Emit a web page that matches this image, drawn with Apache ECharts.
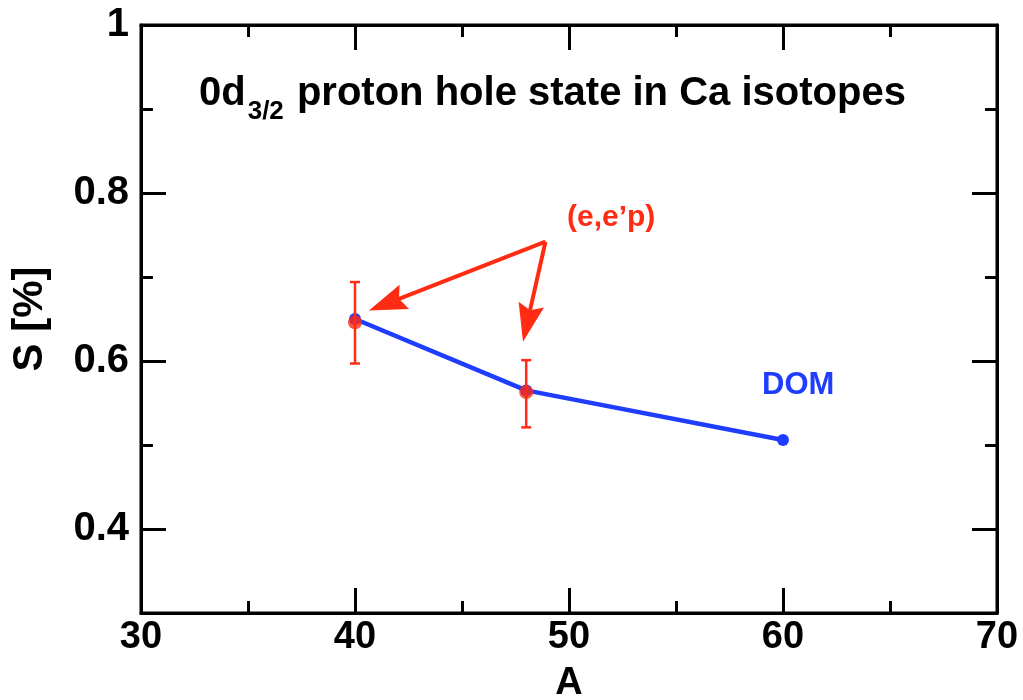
<!DOCTYPE html>
<html><head><meta charset="utf-8">
<script src="https://cdn.jsdelivr.net/npm/echarts@6/dist/echarts.min.js"></script>
<style>html,body{margin:0;padding:0;background:#fff}#c{width:1023px;height:700px}</style>
</head><body><div id="c"></div>
<script>
// ---- data ----
var domA = [40, 48, 60];
var domS = [0.650, 0.565, 0.506];
var expA = [40, 48];
var expS = [0.646, 0.563];
var expLow = [0.597, 0.521];
var expHigh = [0.694, 0.601];
var xMajorTicks = [30, 40, 50, 60, 70];
var xMinorTicks = [35, 45, 55, 65];
var yMajorTicks = [0.4, 0.6, 0.8, 1.0];
var yMinorTicks = [0.5, 0.7, 0.9];
// annotation arrows: [fromA, fromS, toA, toS]
var arrows = [[48.9, 0.742, 40.65, 0.660], [48.9, 0.742, 47.85, 0.623]];

var FONT = '"Liberation Sans", Arial, sans-serif';
var RED = '#ff2b12', BLUE = '#1f3dff';

var chart = echarts.init(document.getElementById('c'), null, {renderer: 'canvas'});

function xAxisDef(pos, labelled, major) {
  return {
    type: 'value', min: 30, max: 70, position: pos, gridIndex: 0,
    axisLine: {show: labelled, onZero: false, lineStyle: {color: '#000', width: 3}},
    axisTick: {show: true, inside: true, length: major ? 25 : 12, customValues: major ? xMajorTicks : xMinorTicks, lineStyle: {color: '#000', width: 3}},
    axisLabel: {show: labelled && pos === 'bottom', customValues: xMajorTicks, margin: 6, color: '#000', fontFamily: FONT, fontWeight: 'bold', fontSize: 38},
    splitLine: {show: false},
    name: (labelled && pos === 'bottom') ? 'A' : '',
    nameLocation: 'middle', nameGap: 52,
    nameTextStyle: {color: '#000', fontFamily: FONT, fontWeight: 'bold', fontSize: 38}
  };
}
function yAxisDef(pos, labelled, major) {
  return {
    type: 'value', min: 0.3, max: 1.0, position: pos, gridIndex: 0,
    axisLine: {show: labelled, onZero: false, lineStyle: {color: '#000', width: 3}},
    axisTick: {show: true, inside: true, length: major ? 25 : 12, customValues: major ? yMajorTicks : yMinorTicks, lineStyle: {color: '#000', width: 3}},
    axisLabel: {show: labelled && pos === 'left', customValues: yMajorTicks, margin: 12, color: '#000', fontFamily: FONT, fontWeight: 'bold', fontSize: 40,
      formatter: function (v) { return Math.abs(v - 1) < 1e-9 ? '1' : v.toFixed(1); }},
    splitLine: {show: false},
    name: (labelled && pos === 'left') ? 'S [%]' : '',
    nameLocation: 'middle', nameGap: 90, nameRotate: 90,
    nameTextStyle: {color: '#000', fontFamily: FONT, fontWeight: 'bold', fontSize: 42}
  };
}

var errData = expA.map(function (a, i) { return [a, expLow[i], expHigh[i]]; });

var option = {
  animation: false,
  backgroundColor: '#fff',
  grid: {left: 141, right: 26, top: 25, bottom: 87, containLabel: false, outerBoundsMode: 'none', show: true, borderColor: '#000', borderWidth: 3},
  xAxis: [xAxisDef('bottom', true, true), xAxisDef('bottom', false, false), xAxisDef('top', true, true), xAxisDef('top', false, false)],
  yAxis: [yAxisDef('left', true, true), yAxisDef('left', false, false), yAxisDef('right', true, true), yAxisDef('right', false, false)],
  graphic: [
    {type: 'text', left: 199, top: 74, z: 100, style: {
      text: '{b|0d}{s|3/2}{b| proton hole state in Ca isotopes}',
      rich: {
        b: {fontFamily: FONT, fontWeight: 'bold', fontSize: 40, fill: '#000', verticalAlign: 'bottom', lineHeight: 44},
        s: {fontFamily: FONT, fontWeight: 'bold', fontSize: 26, fill: '#000', verticalAlign: 'bottom', lineHeight: 44, padding: [0, 2, -11, 2]}
      }
    }},
    {type: 'text', left: 567, top: 203, z: 100, style: {text: '(e,e\u2019p)', fontFamily: FONT, fontWeight: 'bold', fontSize: 30, fill: RED}},
    {type: 'text', left: 762, top: 370, z: 100, style: {text: 'DOM', fontFamily: FONT, fontWeight: 'bold', fontSize: 31, fill: BLUE}}
  ],
  series: [
    {
      type: 'line', xAxisIndex: 0, yAxisIndex: 0,
      data: domA.map(function (a, i) { return [a, domS[i]]; }),
      symbol: 'circle', symbolSize: 12, showSymbol: true,
      lineStyle: {color: BLUE, width: 4.5}, itemStyle: {color: BLUE}, z: 3
    },
    {
      type: 'custom', xAxisIndex: 0, yAxisIndex: 0, z: 4,
      data: errData,
      encode: {x: 0, y: [1, 2]},
      renderItem: function (params, api) {
        var x = api.value(0);
        var lo = api.coord([x, api.value(1)]);
        var hi = api.coord([x, api.value(2)]);
        var cap = 5;
        var st = {stroke: RED, lineWidth: 2.5};
        return {type: 'group', children: [
          {type: 'line', shape: {x1: lo[0], y1: lo[1], x2: hi[0], y2: hi[1]}, style: st},
          {type: 'line', shape: {x1: lo[0] - cap, y1: lo[1], x2: lo[0] + cap, y2: lo[1]}, style: st},
          {type: 'line', shape: {x1: hi[0] - cap, y1: hi[1], x2: hi[0] + cap, y2: hi[1]}, style: st}
        ]};
      }
    },
    {
      type: 'scatter', xAxisIndex: 0, yAxisIndex: 0, z: 5,
      data: expA.map(function (a, i) { return [a, expS[i]]; }),
      symbol: 'circle', symbolSize: 14, itemStyle: {color: RED}
    },
    {
      type: 'custom', xAxisIndex: 0, yAxisIndex: 0, z: 6,
      data: arrows,
      encode: {x: [0, 2], y: [1, 3]},
      renderItem: function (params, api) {
        var p1 = api.coord([api.value(0), api.value(1)]);
        var p2 = api.coord([api.value(2), api.value(3)]);
        var dx = p2[0] - p1[0], dy = p2[1] - p1[1];
        var L = Math.sqrt(dx * dx + dy * dy);
        var ux = dx / L, uy = dy / L, nx = -uy, ny = ux;
        var hl = 38, hw = 13;
        var bx = p2[0] - ux * hl, by = p2[1] - uy * hl;
        var nxb = p2[0] - ux * hl * 0.85, nyb = p2[1] - uy * hl * 0.85;
        return {type: 'group', children: [
          {type: 'line', shape: {x1: p1[0], y1: p1[1], x2: nxb, y2: nyb}, style: {stroke: RED, lineWidth: 4}},
          {type: 'polygon', shape: {points: [[p2[0], p2[1]], [bx + nx * hw, by + ny * hw], [nxb, nyb], [bx - nx * hw, by - ny * hw]]}, style: {fill: RED}}
        ]};
      }
    }
  ]
};
chart.setOption(option);
</script>
</body></html>
